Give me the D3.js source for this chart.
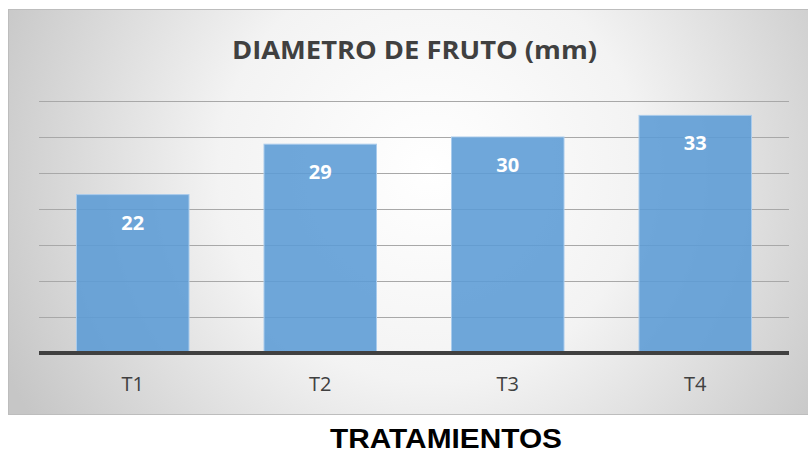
<!DOCTYPE html>
<html>
<head>
<meta charset="utf-8">
<script src="https://cdn.jsdelivr.net/npm/d3@7"></script>
<style>
  body { margin: 0; background: #ffffff; }
  svg { display: block; }
</style>
</head>
<body>
<div id="chart"></div>
<script>
// chart data
var categories = ["T1", "T2", "T3", "T4"];
var values = [22, 29, 30, 33];
var gridTicks = [5, 10, 15, 20, 25, 30, 35];

var width = 808,
    height = 455,
    plotLeft = 39,
    plotRight = 789,
    plotTop = 101,
    plotBottom = 353;

var svg = d3.select("#chart")
            .append("svg")
            .attr("width", width)
            .attr("height", height);

// background gradient of the chart box
var defs = svg.append("defs");
var grad = defs.append("radialGradient")
               .attr("id", "bg")
               .attr("gradientUnits", "userSpaceOnUse")
               .attr("cx", 430)
               .attr("cy", 170)
               .attr("r", 470);
grad.append("stop").attr("offset", "0").attr("stop-color", "#ffffff");
grad.append("stop").attr("offset", "0.45").attr("stop-color", "#f3f3f3");
grad.append("stop").attr("offset", "1").attr("stop-color", "#c6c6c6");

svg.append("rect")
   .attr("x", 8.5)
   .attr("y", 9.5)
   .attr("width", 805)
   .attr("height", 405)
   .attr("fill", "url(#bg)")
   .attr("stroke", "#bdbdbd")
   .attr("stroke-width", 1);

// scales
var x = d3.scaleBand()
          .domain(categories)
          .range([plotLeft, plotRight])
          .paddingInner(0.4)
          .paddingOuter(0.2);

var y = d3.scaleLinear()
          .domain([0, 35])
          .range([plotBottom, plotTop]);

// gridlines
svg.selectAll(".grid")
   .data(gridTicks)
   .enter()
   .append("line")
   .attr("class", "grid")
   .attr("x1", plotLeft)
   .attr("x2", plotRight)
   .attr("y1", function(d) { return Math.round(y(d)) + 0.5; })
   .attr("y2", function(d) { return Math.round(y(d)) + 0.5; })
   .attr("stroke", "#a8a8a8")
   .attr("stroke-width", 1);

// title
svg.append("text")
   .attr("x", 414.5)
   .attr("y", 59)
   .attr("text-anchor", "middle")
   .attr("font-family", "Open Sans")
   .attr("font-weight", "bold")
   .attr("font-size", 25)
   .attr("textLength", 365)
   .attr("lengthAdjust", "spacingAndGlyphs")
   .attr("fill", "#404040")
   .text("DIAMETRO DE FRUTO (mm)");

// bars
svg.selectAll(".bar")
   .data(values)
   .enter()
   .append("rect")
   .attr("class", "bar")
   .attr("x", function(d, i) { return x(categories[i]); })
   .attr("y", function(d) { return y(d); })
   .attr("width", x.bandwidth())
   .attr("height", function(d) { return plotBottom - y(d); })
   .attr("fill", "#5b9bd5")
   .attr("fill-opacity", 0.88)
   .attr("stroke", "#a9cbec")
   .attr("stroke-width", 1);

// value labels
svg.selectAll(".label")
   .data(values)
   .enter()
   .append("text")
   .attr("class", "label")
   .attr("x", function(d, i) { return x(categories[i]) + x.bandwidth() / 2; })
   .attr("y", function(d) { return y(d) + 35; })
   .attr("text-anchor", "middle")
   .attr("font-family", "Open Sans")
   .attr("font-weight", "bold")
   .attr("font-size", 20)
   .attr("fill", "#ffffff")
   .text(function(d) { return d; });

// baseline
svg.append("line")
   .attr("x1", plotLeft)
   .attr("x2", plotRight)
   .attr("y1", y(0))
   .attr("y2", y(0))
   .attr("stroke", "#404040")
   .attr("stroke-width", 4);

// category axis labels
var xAxis = svg.append("g")
               .attr("transform", "translate(0," + y(0) + ")")
               .call(d3.axisBottom(x).tickSize(0).tickPadding(24));
xAxis.select(".domain").remove();
xAxis.selectAll("text")
     .attr("font-family", "Open Sans")
     .attr("font-size", 20)
     .attr("fill", "#404040");

// axis title below the box
svg.append("text")
   .attr("x", 446)
   .attr("y", 448)
   .attr("text-anchor", "middle")
   .attr("font-family", "Liberation Sans")
   .attr("font-weight", "bold")
   .attr("font-size", 27)
   .attr("textLength", 232)
   .attr("lengthAdjust", "spacingAndGlyphs")
   .attr("fill", "#000000")
   .text("TRATAMIENTOS");
</script>
</body>
</html>
